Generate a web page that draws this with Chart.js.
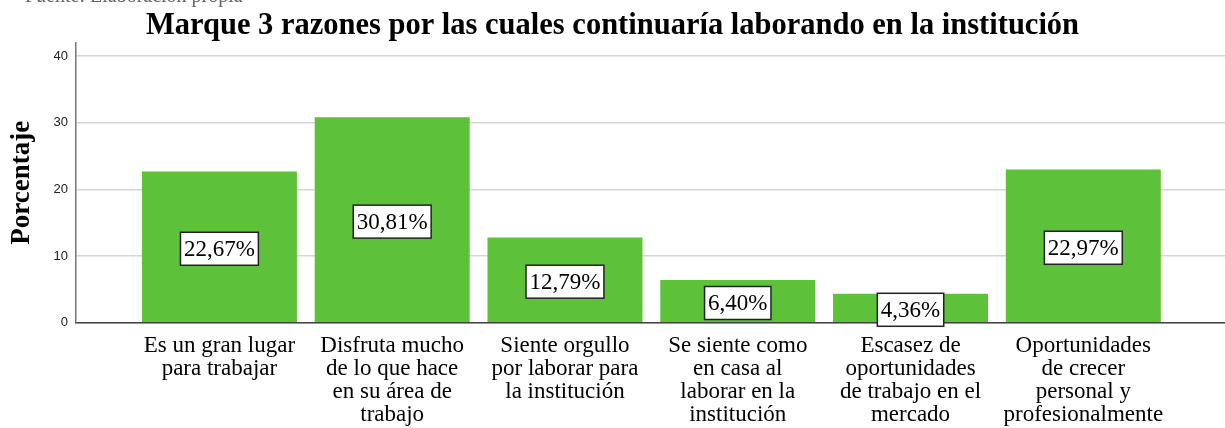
<!DOCTYPE html>
<html>
<head>
<meta charset="utf-8">
<script src="https://cdn.jsdelivr.net/npm/chart.js@4/dist/chart.umd.min.js"></script>
<style>
  html, body { margin: 0; padding: 0; background: #fff; }
  #wrap { width: 1225px; height: 428px; }
</style>
</head>
<body>
<div id="wrap"><canvas id="razonesChart" width="1225" height="428"></canvas></div>
<script>
const categories = [
  ["Es un gran lugar", "para trabajar"],
  ["Disfruta mucho", "de lo que hace", "en su área de", "trabajo"],
  ["Siente orgullo", "por laborar para", "la institución"],
  ["Se siente como", "en casa al", "laborar en la", "institución"],
  ["Escasez de", "oportunidades", "de trabajo en el", "mercado"],
  ["Oportunidades", "de crecer", "personal y", "profesionalmente"]
];
const porcentajes = [22.67, 30.81, 12.79, 6.40, 4.36, 22.97];
const yTicks = [0, 10, 20, 30, 40];

const serif = "'Liberation Serif', 'Times New Roman', serif";

// white boxed percentage labels in the middle of each bar
const boxLabels = {
  id: "boxLabels",
  afterDatasetsDraw(chart) {
    const ctx = chart.ctx;
    const meta = chart.getDatasetMeta(0);
    ctx.save();
    ctx.font = "23px " + serif;
    ctx.textAlign = "center";
    ctx.textBaseline = "middle";
    meta.data.forEach((bar, i) => {
      const txt = porcentajes[i].toFixed(2).replace(".", ",") + "%";
      const w = ctx.measureText(txt).width + 7;
      const h = 33;
      const cx = bar.x;
      const cy = (bar.y + bar.base) / 2 + 2;
      ctx.fillStyle = "#fff";
      ctx.fillRect(cx - w / 2, cy - h / 2, w, h);
      ctx.strokeStyle = "#222";
      ctx.lineWidth = 1.5;
      ctx.strokeRect(cx - w / 2, cy - h / 2, w, h);
      ctx.fillStyle = "#000";
      ctx.fillText(txt, cx, cy + 1);
    });
    ctx.restore();
  }
};

// caption line cut off at the top of the picture
const topCaption = {
  id: "topCaption",
  afterDraw(chart) {
    const ctx = chart.ctx;
    ctx.save();
    ctx.font = "20px " + serif;
    ctx.fillStyle = "#666";
    ctx.textAlign = "left";
    ctx.textBaseline = "alphabetic";
    ctx.fillText("Fuente: Elaboración propia", 25, 1.5);
    ctx.restore();
  }
};

new Chart(document.getElementById("razonesChart").getContext("2d"), {
  type: "bar",
  data: {
    datasets: [{
      data: porcentajes.map((v, i) => ({ x: i, y: v })),
      backgroundColor: "#5ec13a",
      borderWidth: 0,
      barPercentage: 0.897,
      categoryPercentage: 1
    }]
  },
  options: {
    responsive: false,
    animation: false,
    layout: { padding: { left: 0, right: 0, top: 0, bottom: 0 } },
    plugins: {
      legend: { display: false },
      tooltip: { enabled: false },
      title: {
        display: true,
        text: "Marque 3 razones por las cuales continuaría laborando en la institución",
        color: "#000",
        font: { family: serif, size: 30.5, weight: "bold", lineHeight: 1 },
        padding: { top: 11, bottom: 1.2 }
      }
    },
    scales: {
      x: {
        type: "linear",
        offset: false,
        min: -0.83,
        max: 5.82,
        afterBuildTicks: (axis) => { axis.ticks = categories.map((c, i) => ({ value: i })); },
        afterFit: (axis) => { axis.height = 105.3; },
        grid: { display: false, drawTicks: false },
        border: { display: true, color: "#444", width: 1.5 },
        ticks: {
          autoSkip: false,
          maxRotation: 0,
          padding: 12,
          color: "#000",
          font: { family: serif, size: 23, lineHeight: 1.0 },
          callback: (v) => categories[v]
        }
      },
      y: {
        min: 0,
        max: 42,
        afterBuildTicks: (axis) => { axis.ticks = yTicks.map(v => ({ value: v })); },
        afterFit: (axis) => { axis.width = 76; },
        grid: { color: "#d6d6d6", lineWidth: 1.5, drawTicks: false },
        border: { display: true, color: "#777", width: 1.5 },
        ticks: {
          padding: 8,
          color: "#222",
          font: { family: "'Liberation Sans', Arial, sans-serif", size: 13 }
        },
        title: {
          display: true,
          text: "Porcentaje",
          color: "#000",
          font: { family: serif, size: 27, weight: "bold" },
          padding: { top: 6 }
        }
      }
    }
  },
  plugins: [boxLabels, topCaption]
});
</script>
</body>
</html>
